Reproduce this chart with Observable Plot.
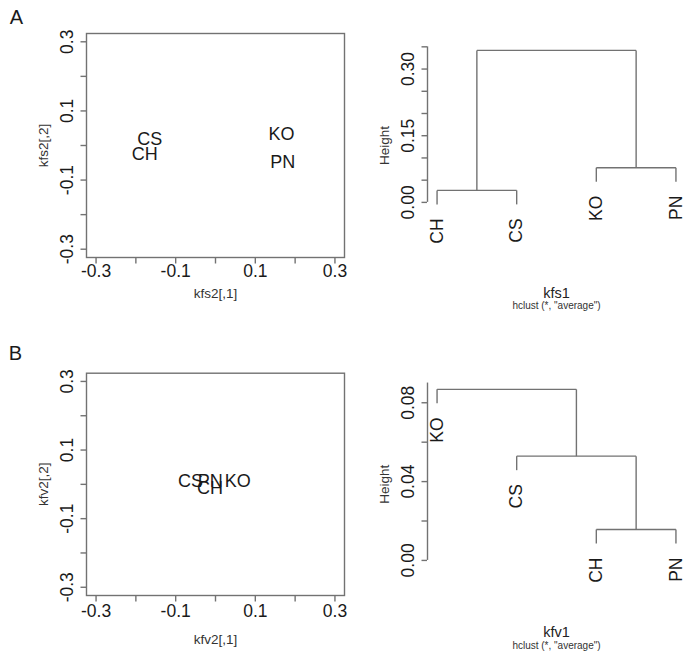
<!DOCTYPE html>
<html>
<head>
<meta charset="utf-8">
<script src="https://cdn.jsdelivr.net/npm/d3@7"></script>
<script src="https://cdn.jsdelivr.net/npm/@observablehq/plot@0.6"></script>
<style>
  html, body { margin: 0; padding: 0; background: #fff; }
  #root { position: relative; width: 685px; height: 657px; overflow: hidden; background: #fff; }
  #root > div { position: absolute; }
  svg { overflow: visible; }
</style>
</head>
<body>
<div id="root">
  <div id="pA1" style="left:0px; top:0px;"></div>
  <div id="pA2" style="left:340px; top:0px;"></div>
  <div id="pB1" style="left:0px; top:330px;"></div>
  <div id="pB2" style="left:340px; top:330px;"></div>
</div>
<script>
// ---------- data ----------
const sampleLabels = ["CH", "CS", "KO", "PN"];

// panel A, left: kfs2 coordinates
const kfs2_x = [-0.178, -0.165, 0.166, 0.169];
const kfs2_y = [-0.026, 0.017, 0.034, -0.049];

// panel B, left: kfv2 coordinates
const kfv2_x = [-0.014, -0.063, 0.056, -0.013];
const kfv2_y = [-0.012, 0.008, 0.008, 0.008];

// scatter axes
const scatterTicks = [-0.3, -0.2, -0.1, 0, 0.1, 0.2, 0.3];
const scatterTickLabels = [-0.3, -0.1, 0.1, 0.3];

// panel A, right: hclust of kfs1 (average)
const leavesA = ["CH", "CS", "KO", "PN"];
const mergesA = [["CH", "CS"], ["KO", "PN"], [1, 2]];
const heightsA = [0.027, 0.078, 0.342];
const ticksA = [0, 0.05, 0.10, 0.15, 0.20, 0.25, 0.30, 0.35];
const tickLabelsA = [0, 0.15, 0.30];

// panel B, right: hclust of kfv1 (average)
const leavesB = ["KO", "CS", "CH", "PN"];
const mergesB = [["CH", "PN"], ["CS", 1], ["KO", 2]];
const heightsB = [0.0157, 0.0529, 0.0868];
const ticksB = [0, 0.02, 0.04, 0.06, 0.08];
const tickLabelsB = [0, 0.04, 0.08];
const axisTopB = 0.09;

// ---------- style ----------
const FONT = "'Liberation Sans', Arial, Helvetica, sans-serif";
const GRAY = "#727272";
const INK = "#1a1a1a";
const LW = 1.4;
const C = {textAnchor: "middle", lineAnchor: "middle"};

function baseStyle() {
  return { fontFamily: FONT, color: INK, background: "transparent", overflow: "visible" };
}

function scatterPanel({xs, ys, xlab, ylab, letter, marginTop, marginBottom, height, tickDy, titleDy, letterDx, letterDy}) {
  const dom = [-0.324, 0.324];
  return Plot.plot({
    width: 348, height,
    marginLeft: 86, marginRight: 4, marginTop, marginBottom,
    style: baseStyle(),
    x: {domain: dom, label: null},
    y: {domain: dom, label: null},
    marks: [
      Plot.frame({stroke: GRAY, strokeWidth: LW}),
      Plot.axisX({ticks: scatterTicks, tickSize: 6.5, tickFormat: () => "", stroke: GRAY, strokeWidth: LW, label: null}),
      Plot.axisY({ticks: scatterTicks, tickSize: 5.5, tickFormat: () => "", stroke: GRAY, strokeWidth: LW, label: null}),
      Plot.text(scatterTickLabels, {...C, x: d => d, frameAnchor: "bottom", dy: tickDy, text: d => String(d), fontSize: 17.5, fill: INK}),
      Plot.text(scatterTickLabels, {...C, y: d => d, frameAnchor: "left", dx: -19, rotate: -90, text: d => String(d), fontSize: 17.5, fill: INK}),
      Plot.text([xlab], {...C, frameAnchor: "bottom", dy: titleDy, text: d => d, fontSize: 13.5, fill: "#333"}),
      Plot.text([ylab], {...C, frameAnchor: "left", dx: -43, rotate: -90, text: d => d, fontSize: 13.5, fill: "#333"}),
      Plot.text([letter], {...C, frameAnchor: "top-left", dx: letterDx, dy: letterDy, text: d => d, fontSize: 20, fill: INK}),
      Plot.text(sampleLabels, {...C, x: (d, i) => xs[i], y: (d, i) => ys[i], text: d => d, fontSize: 18, fill: INK})
    ]
  });
}

function dendrogram(leaves, merges, heights) {
  const hang = 0.1 * (d3.max(heights) - d3.min(heights));
  const nodes = [];
  const segs = [];
  const leafEnds = [];
  merges.forEach(([a, b], i) => {
    const h = heights[i];
    const child = c => typeof c === "string"
      ? {x: leaves.indexOf(c) + 1, h: h - hang, leaf: c}
      : nodes[c - 1];
    const A = child(a), B = child(b);
    segs.push({x1: A.x, y1: A.h, x2: A.x, y2: h});
    segs.push({x1: A.x, y1: h, x2: B.x, y2: h});
    segs.push({x1: B.x, y1: h, x2: B.x, y2: B.h});
    [A, B].forEach(c => { if (c.leaf) leafEnds.push(c); });
    nodes.push({x: (A.x + B.x) / 2, h});
  });
  return {segs, leafEnds};
}

function dendroPanel({leaves, merges, heights, ticks, tickLabels, axisTop, yDomain, title, marginTop, marginBottom, height, titleDy, subDy}) {
  const {segs, leafEnds} = dendrogram(leaves, merges, heights);
  const xDom = [1 - 0.04 * (leaves.length - 1), leaves.length + 0.04 * (leaves.length - 1)];
  return Plot.plot({
    width: 345, height,
    marginLeft: 87, marginRight: 0, marginTop, marginBottom,
    style: baseStyle(),
    x: {domain: xDom, label: null, axis: null},
    y: {domain: yDomain, label: null},
    marks: [
      Plot.link(segs, {x1: "x1", y1: "y1", x2: "x2", y2: "y2", stroke: GRAY, strokeWidth: LW}),
      Plot.ruleX([xDom[0]], {y1: ticks[0], y2: axisTop, stroke: GRAY, strokeWidth: LW}),
      Plot.axisY({ticks, tickSize: 5.5, tickFormat: () => "", stroke: GRAY, strokeWidth: LW, label: null}),
      Plot.text(tickLabels, {...C, y: d => d, frameAnchor: "left", dx: -19, rotate: -90, text: d => d.toFixed(2), fontSize: 17.5, fill: INK}),
      Plot.text(leafEnds, {x: "x", y: "h", text: "leaf", rotate: -90, textAnchor: "end", lineAnchor: "middle", dy: 14, fontSize: 17.5, fill: INK}),
      Plot.text(["Height"], {...C, frameAnchor: "left", dx: -43, rotate: -90, text: d => d, fontSize: 13.5, fill: "#333"}),
      Plot.text([title], {...C, frameAnchor: "bottom", dy: titleDy, text: d => d, fontSize: 14.5, fill: "#222"}),
      Plot.text(['hclust (*, "average")'], {...C, frameAnchor: "bottom", dy: subDy, text: d => d, fontSize: 10, fill: "#333"})
    ]
  });
}

document.getElementById("pA1").append(scatterPanel({
  xs: kfs2_x, ys: kfs2_y, xlab: "kfs2[,1]", ylab: "kfs2[,2]", letter: "A",
  marginTop: 33, marginBottom: 53, height: 310, tickDy: 14, titleDy: 36, letterDx: -70, letterDy: -16
}));

document.getElementById("pA2").append(dendroPanel({
  leaves: leavesA, merges: mergesA, heights: heightsA, ticks: ticksA, tickLabels: tickLabelsA,
  axisTop: ticksA[ticksA.length - 1], yDomain: [-0.124, 0.380], title: "kfs1",
  marginTop: 33, marginBottom: 53, height: 310, titleDy: 36, subDy: 48
}));

document.getElementById("pB1").append(scatterPanel({
  xs: kfv2_x, ys: kfv2_y, xlab: "kfv2[,1]", ylab: "kfv2[,2]", letter: "B",
  marginTop: 42.7, marginBottom: 62, height: 327, tickDy: 16, titleDy: 44, letterDx: -71, letterDy: -19.5
}));

document.getElementById("pB2").append(dendroPanel({
  leaves: leavesB, merges: mergesB, heights: heightsB, ticks: ticksB, tickLabels: tickLabelsB,
  axisTop: axisTopB, yDomain: [-0.0178, 0.095], title: "kfv1",
  marginTop: 42.7, marginBottom: 62, height: 327, titleDy: 37, subDy: 50
}));
</script>
</body>
</html>
